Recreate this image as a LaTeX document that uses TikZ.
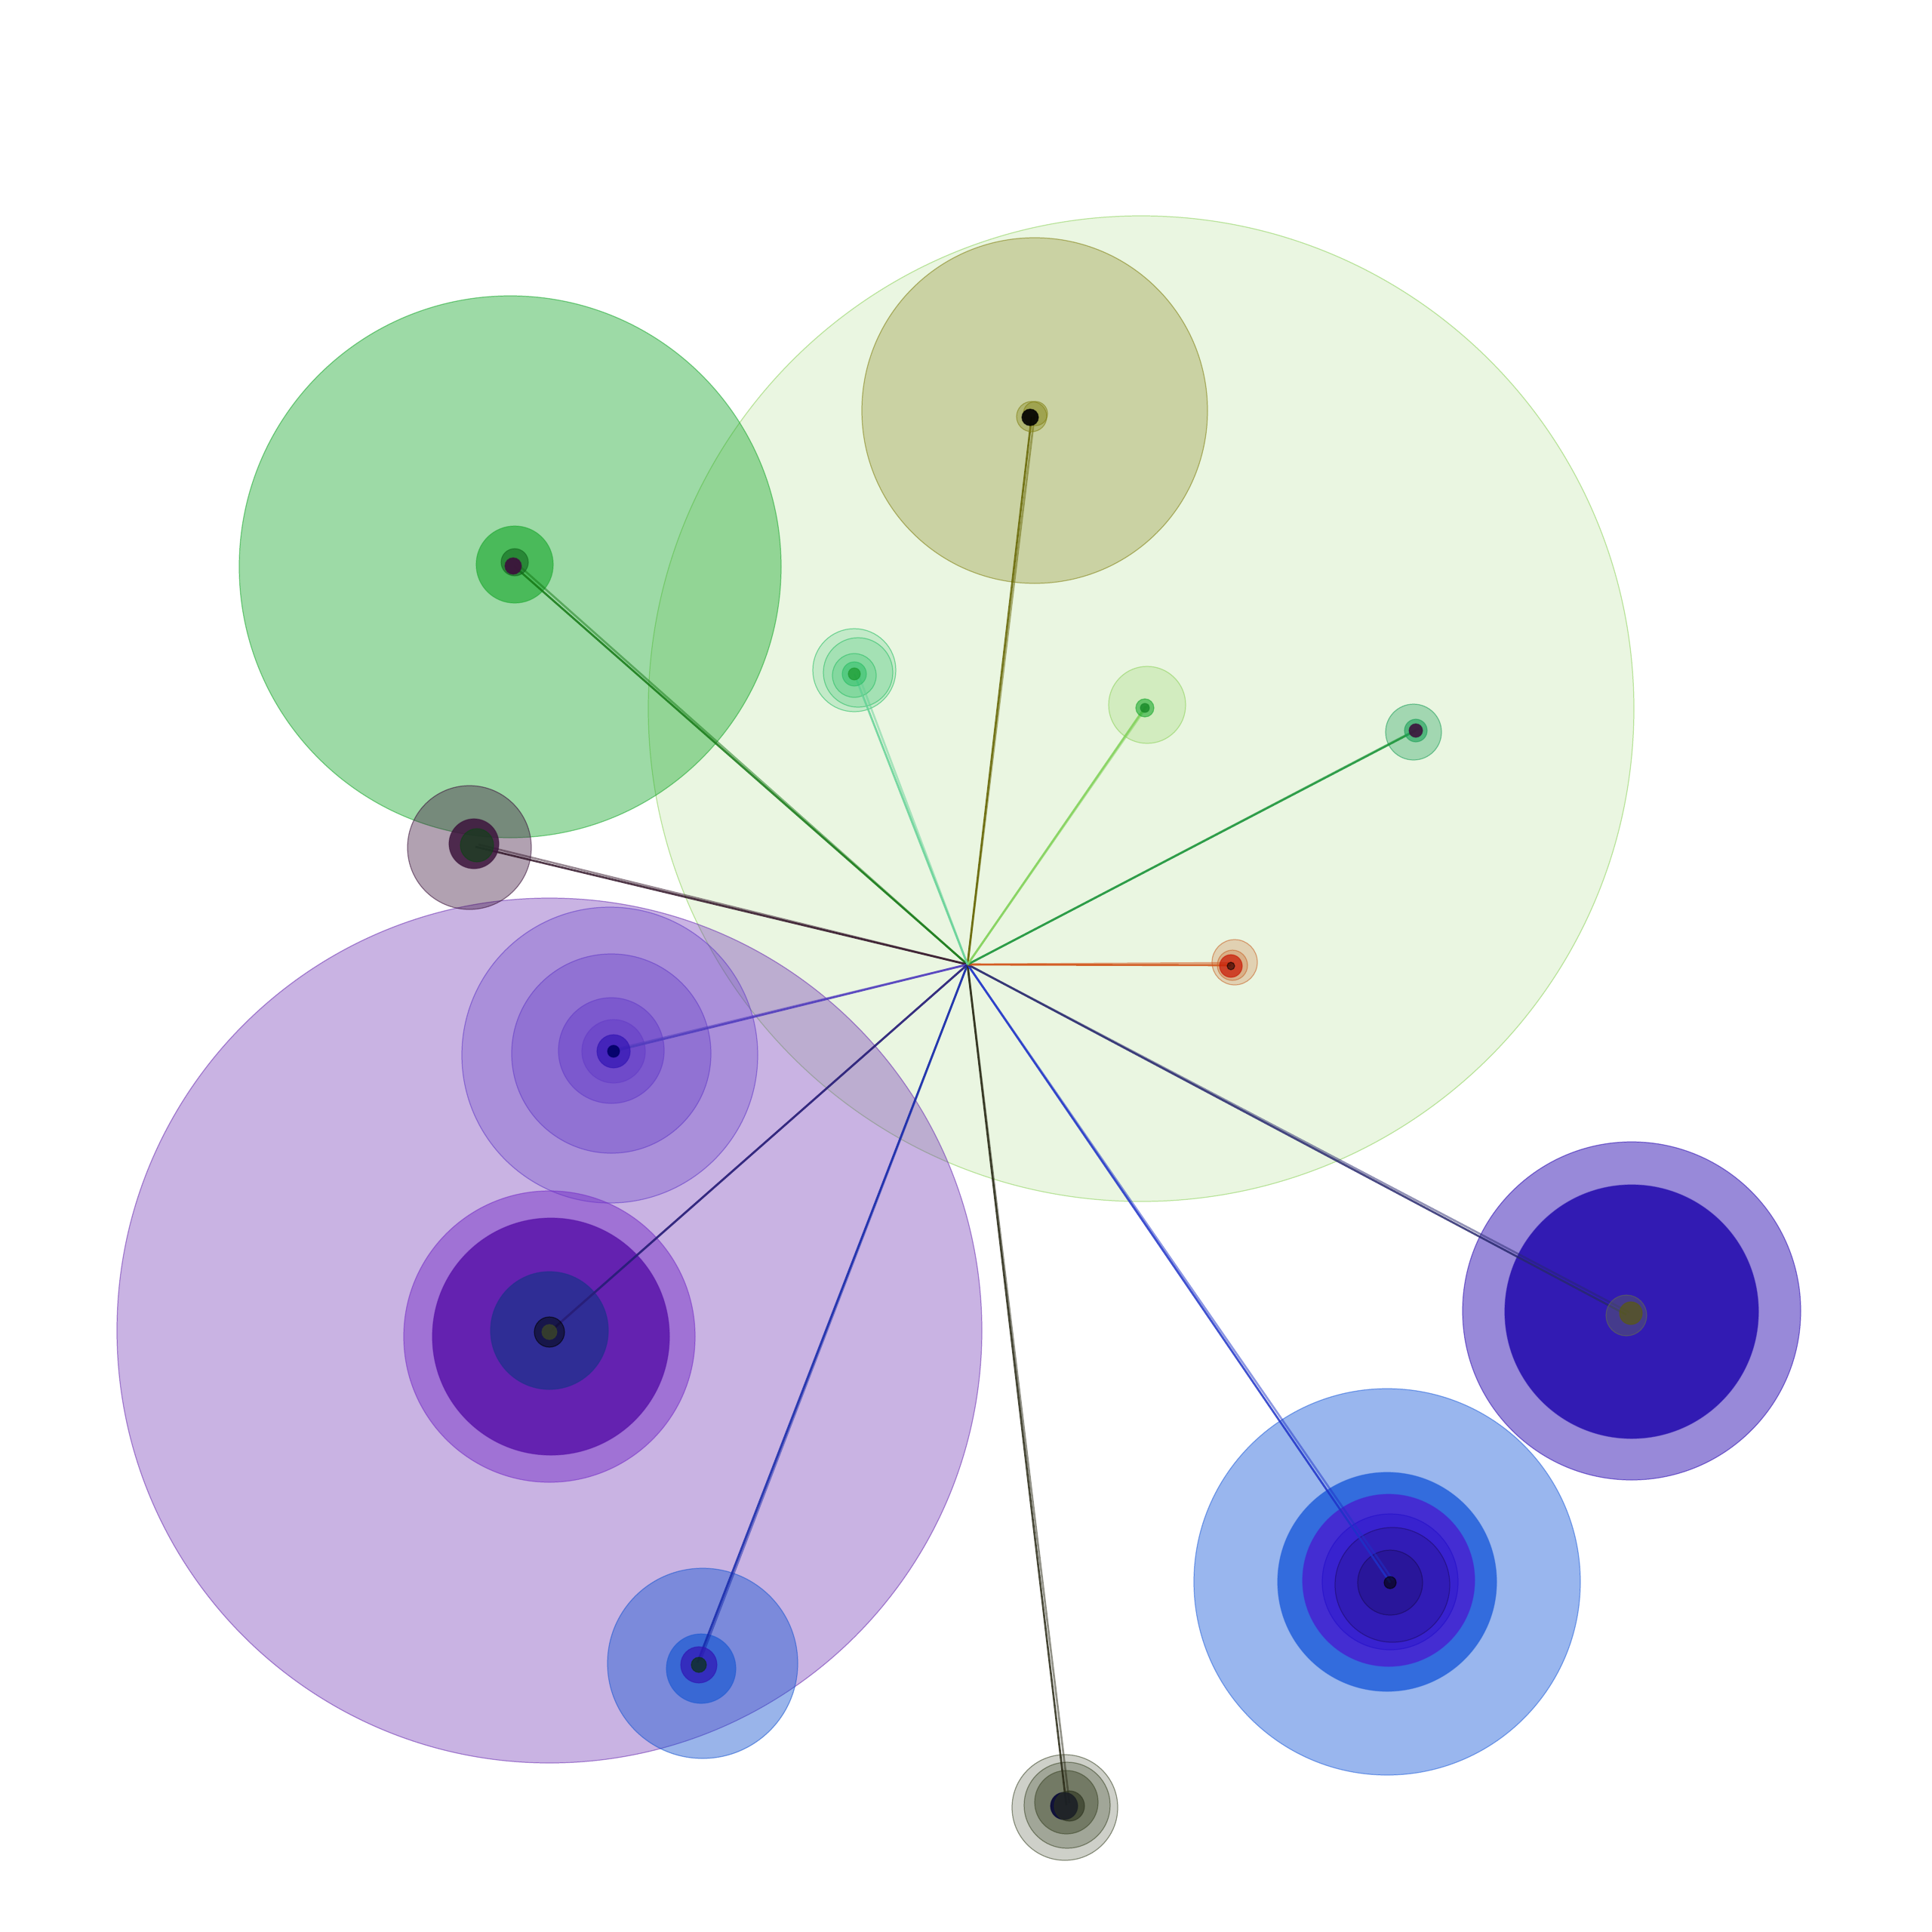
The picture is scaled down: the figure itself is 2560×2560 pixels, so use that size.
\documentclass[tikz,border=0pt]{standalone}
\begin{document}
\begin{tikzpicture}[x=0.01cm,y=-0.01cm,
  bub/.style 2 args={fill=#1,draw=#1,fill opacity=#2,draw opacity=0.55,line width=0.35pt},
  lnk/.style={draw=#1,line width=0.75pt,draw opacity=0.85}]
\definecolor{lgreen}{RGB}{140,210,90}
\definecolor{olivec}{RGB}{130,130,20}
\definecolor{grn}{RGB}{30,170,50}
\definecolor{mauve}{RGB}{60,20,60}
\definecolor{purp}{RGB}{110,50,180}
\definecolor{purptwo}{RGB}{120,50,200}
\definecolor{purpdeep}{RGB}{90,20,170}
\definecolor{navyc}{RGB}{30,50,140}
\definecolor{violetc}{RGB}{100,60,200}
\definecolor{blu}{RGB}{40,100,220}
\definecolor{blutwo}{RGB}{30,90,210}
\definecolor{indig}{RGB}{50,20,180}
\definecolor{indigdeep}{RGB}{45,22,178}
\definecolor{blviolet}{RGB}{70,40,210}
\definecolor{grayc}{RGB}{60,70,40}
\definecolor{tealc}{RGB}{40,190,100}
\definecolor{sea}{RGB}{30,160,90}
\definecolor{rust}{RGB}{200,100,40}
\definecolor{redc}{RGB}{200,20,0}
\fill[white] (0,0) rectangle (2560,2560);
\useasboundingbox (0,0) rectangle (2560,2560);
% named centres
\coordinate (hub) at (1282,1278);
\coordinate (eolive) at (1367,552);
\coordinate (egreen) at (681,750);
\coordinate (emauve) at (630,1122);
\coordinate (epmed) at (813,1393);
\coordinate (eplow) at (728,1765);
\coordinate (ebsmall) at (924,2203);
\coordinate (egray) at (1413,2392);
\coordinate (ebbig) at (1842,2097);
\coordinate (eprt) at (2155,1742);
\coordinate (ered) at (1631,1279);
\coordinate (egrt) at (1876,968);
\coordinate (elg) at (1518,936);
\coordinate (eteal) at (1132,893);
% large circles
\path[bub={lgreen}{0.18}] (1512,939) circle (653);
\path[bub={olivec}{0.3}] (1371,544) circle (229);
\path[bub={grn}{0.43}] (676,751) circle (359);
\path[bub={purp}{0.37}] (728,1763) circle (573);
\path[bub={mauve}{0.4}] (622,1123) circle (82);
% purple medium cluster
\path[bub={violetc}{0.3}] (808,1398) circle (196);
\path[bub={violetc}{0.35}] (810,1396) circle (132);
\path[bub={violetc}{0.45}] (810,1392) circle (70);
\path[bub={violetc}{0.5}] (813,1393) circle (42);
% purple lower cluster
\path[bub={purptwo}{0.5}] (728,1771) circle (193);
\path[bub={purpdeep}{0.85}] (730,1771) circle (157);
\path[bub={navyc}{0.75}] (728,1763) circle (78);
% blue small cluster
\path[bub={blutwo}{0.45}] (931,2204) circle (126);
\path[bub={blutwo}{0.7}] (929,2211) circle (46);
% gray bottom
\path[bub={grayc}{0.25}] (1411,2395) circle (70);
\path[bub={grayc}{0.3}] (1414,2392) circle (57);
\path[bub={grayc}{0.45}] (1413,2388) circle (42);
% blue big cluster
\path[bub={blu}{0.47}] (1838,2096) circle (256);
\path[bub={blu}{0.9}] (1838,2096) circle (145);
\path[bub={blviolet}{0.92}] (1840,2094) circle (114);
\path[bub={indig!70!blue}{0.35}] (1842,2096) circle (90);
\path[bub={indig!60!black}{0.25}] (1845,2100) circle (76);
\path[bub={indig!50!black}{0.3}] (1842,2097) circle (43);
% purple right
\path[bub={indig}{0.5}] (2162,1737) circle (224);
\path[bub={indigdeep}{0.95}] (2162,1738) circle (168);
% small clusters outer
\path[bub={sea}{0.35}] (1873,970) circle (37);
\path[bub={lgreen}{0.25}] (1520,934) circle (51);
\path[bub={tealc}{0.2}] (1132,888) circle (55);
\path[bub={tealc}{0.2}] (1137,891) circle (46);
\path[bub={tealc}{0.25}] (1132,895) circle (29);
\path[bub={rust}{0.25}] (1636,1275) circle (30);
\path[bub={grn}{0.65}] (682,748) circle (51);
% links
\foreach \e/\c in {eolive/{rgb,255:red,100;green,100;blue,0},
  egreen/{rgb,255:red,20;green,120;blue,20},
  emauve/{rgb,255:red,50;green,20;blue,40},
  epmed/{rgb,255:red,80;green,60;blue,190},
  eplow/{rgb,255:red,40;green,30;blue,120},
  ebsmall/{rgb,255:red,20;green,40;blue,170},
  egray/{rgb,255:red,40;green,40;blue,20},
  ebbig/{rgb,255:red,30;green,50;blue,200},
  eprt/{rgb,255:red,40;green,40;blue,110},
  ered/{rgb,255:red,210;green,80;blue,20},
  egrt/{rgb,255:red,30;green,150;blue,60},
  elg/{rgb,255:red,130;green,210;blue,90},
  eteal/{rgb,255:red,100;green,210;blue,150}}{
  \draw[lnk=\c] (hub) -- (\e);
  \draw[lnk=\c,draw opacity=0.5] (hub) -- ([xshift=0.04cm,yshift=0.03cm]\e);
}
% cores
\path[bub={olivec}{0.35}] (1367,552) circle (20);
\path[bub={olivec}{0.35}] (1372,548) circle (16);
\path[bub={black}{0.9}] (1365,553) circle (11);
\path[bub={grn!60!black}{0.6}] (682,745) circle (18);
\path[bub={mauve}{0.95}] (680,750) circle (11);
\path[bub={mauve}{0.85}] (628,1118) circle (33);
\path[bub={grn!40!black}{0.6}] (632,1120) circle (22);
\path[bub={indig}{0.7}] (813,1393) circle (22);
\path[bub={blue!40!black}{0.9}] (813,1393) circle (8);
\path[bub={black}{0.5}] (728,1765) circle (20);
\path[bub={grayc}{0.8}] (728,1765) circle (10);
\path[bub={indig}{0.7}] (926,2206) circle (24);
\path[bub={grn!30!black}{0.7}] (926,2206) circle (10);
\path[bub={blue!20!black}{0.85}] (1410,2393) circle (18);
\path[bub={grayc!70!black}{0.6}] (1417,2393) circle (20);
\path[bub={black}{0.6}] (1842,2097) circle (8);
\path[bub={grayc!80!white}{0.4}] (2155,1743) circle (27);
\path[bub={olivec!70!black}{0.7}] (2161,1740) circle (15);
\path[bub={sea}{0.6}] (1876,968) circle (15);
\path[bub={mauve}{0.9}] (1876,968) circle (9);
\path[bub={grn}{0.6}] (1517,938) circle (12);
\path[bub={grn!80!black}{0.8}] (1517,938) circle (6);
\path[bub={tealc}{0.5}] (1132,893) circle (16);
\path[bub={grn!90!black}{0.7}] (1132,893) circle (8);
\path[bub={rust}{0.3}] (1633,1279) circle (20);
\path[bub={redc}{0.7}] (1631,1280) circle (15);
\path[bub={black}{0.5}] (1631,1280) circle (5);
\end{tikzpicture}
\end{document}
